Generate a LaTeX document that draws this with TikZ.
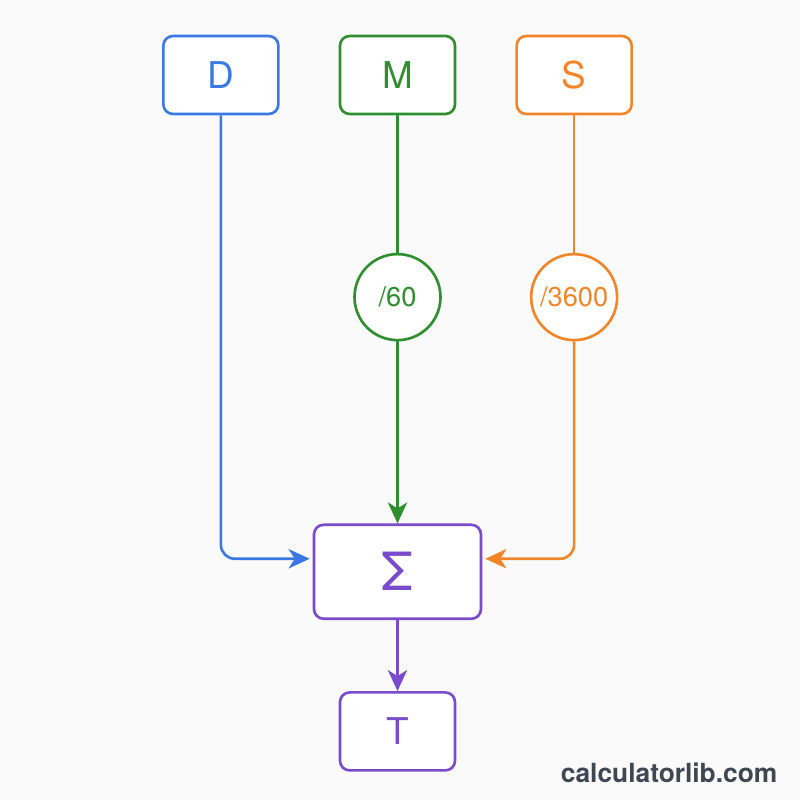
\documentclass[tikz,border=0pt]{standalone}
\usepackage{fontspec}
\setmainfont{TeX Gyre Heros}
\usetikzlibrary{arrows.meta, positioning, calc}
\definecolor{DBlue}{HTML}{3A78E5}
\definecolor{MGreen}{HTML}{2F8F2F}
\definecolor{SOrange}{HTML}{F2852A}
\definecolor{SumPurple}{HTML}{7A4CCB}
\definecolor{Ink}{HTML}{3F4752}
\definecolor{Paper}{HTML}{FAFAFA}

\begin{document}
\begin{tikzpicture}[
    ubox/.style={rectangle, rounded corners=5.5pt, line width=1.5pt, fill=white,
                  minimum height=1.56cm, minimum width=2.3cm,
                  font=\fontsize{21}{24}\selectfont},
    conv/.style={circle, line width=1.5pt, fill=white, minimum size=1.72cm,
                  inner sep=0pt, font=\fontsize{15.5}{18}\selectfont},
    link/.style={line width=1.5pt, rounded corners=8pt},
    arr/.style={link, -{Stealth[length=12pt, width=11pt, inset=3.5pt]}},
    node distance=1.18cm
  ]
    \fill[Paper] (-7.95,1.5) rectangle (8.05,-14.5);
    \useasboundingbox (-7.95,1.5) rectangle (8.05,-14.5);

    % units in, one per column
    \node[ubox, draw=MGreen, text=MGreen] (M) at (0,0) {M};
    \node[ubox, draw=DBlue, text=DBlue, left=of M] (D) {D};
    \node[ubox, draw=SOrange, text=SOrange, right=of M] (S) {S};

    % conversion factors
    \node[conv, draw=MGreen, text=MGreen, below=2.75cm of M] (m60) {/60};
    \node[conv, draw=SOrange, text=SOrange, below=2.75cm of S] (s3600) {/3600};

    % sum and result
    \node[ubox, draw=SumPurple, text=SumPurple, minimum width=3.34cm,
          minimum height=1.88cm, font=\fontsize{30}{33}\selectfont,
          below=3.64cm of m60] (sum) {Σ};
    \node[ubox, draw=SumPurple, text=SumPurple, below=1.42cm of sum] (T) {T};

    \coordinate (din) at ($(sum.west)+(-0.06,0.26)$);
    \coordinate (sin) at ($(sum.east)+(0.06,0.26)$);

    \draw[arr, DBlue] (D.south) |- (din);
    \draw[link, MGreen] (M) -- (m60);
    \draw[arr, MGreen] (m60) -- (sum);
    \draw[link, SOrange] (S) -- (s3600);
    \draw[arr, SOrange] (s3600.south) |- (sin);
    \draw[arr, SumPurple] (sum) -- (T);

    \node[anchor=east, text=Ink, font=\fontsize{15}{18}\selectfont\bfseries]
      (brand) at (7.72,-13.96) {calculatorlib.com};
  \end{tikzpicture}
\end{document}
